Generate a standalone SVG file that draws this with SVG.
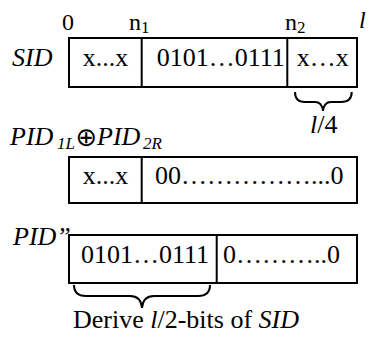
<svg xmlns="http://www.w3.org/2000/svg" width="369" height="341" viewBox="0 0 369 341">
<style>
text{font-family:'Liberation Serif',serif;font-size:26px;fill:#000}
.it{font-style:italic}
.sm{font-size:24px}
.sub{font-size:17px}
.box{fill:#fff;stroke:#000;stroke-width:2}
.div{stroke:#000;stroke-width:2}
.brace{fill:none;stroke:#000;stroke-width:2}
</style>
<rect width="369" height="341" fill="#fff"/>
<g id="sid" font-family="Liberation Serif">
  <text class="sm" x="62" y="30">0</text>
  <text class="sm" x="129" y="30">n<tspan class="sub" dy="3">1</tspan></text>
  <text class="sm" x="285" y="30">n<tspan class="sub" dy="3">2</tspan></text>
  <text class="sm it" x="359" y="28">l</text>
  <text class="it" x="12" y="66">SID</text>
  <rect class="box" x="69" y="38" width="288" height="49"/>
  <line class="div" x1="141.7" y1="38" x2="141.7" y2="87"/>
  <line class="div" x1="287.3" y1="38" x2="287.3" y2="87"/>
  <text x="82.7" y="65.5">x...x</text>
  <text x="156.7" y="65.5">0101…0111</text>
  <text x="296.7" y="65.5">x…x</text>
</g>
<g id="xor" font-family="Liberation Serif">
  <text class="it" x="10" y="145">PID</text>
  <text class="it sub" x="57" y="149">1L</text>
  <text x="75.5" y="146" style="font-family:'DejaVu Sans',sans-serif;font-size:26px">⊕</text>
  <text class="it" x="97" y="145">PID</text>
  <text class="it sub" x="143" y="149">2R</text>
  <rect class="box" x="69" y="157" width="288" height="46"/>
  <line class="div" x1="141.7" y1="157" x2="141.7" y2="203"/>
  <text x="82.7" y="184">x...x</text>
  <text x="155" y="183.5">00……………...0</text>
</g>
<g id="pid2" font-family="Liberation Serif">
  <text class="it" x="13" y="245">PID”</text>
  <rect class="box" x="69" y="235" width="288" height="48"/>
  <line class="div" x1="216.7" y1="235" x2="216.7" y2="283"/>
  <text x="81" y="263">0101…0111</text>
  <text x="223" y="263">0………..0</text>
</g>
<g id="connectors">
  <path class="brace" d="M295,92 Q295,102 305,102 L315,102 Q322,102 323,111 Q324,102 331,102 L341,102 Q351.7,102 351.7,92"/>
  <path class="brace" d="M74,285 Q74,296 86,296 L130,296 Q141,296 142,308 Q143,296 154,296 L198,296 Q210,296 210,285"/>
</g>
<g id="labels" font-family="Liberation Serif">
  <text x="310" y="133"><tspan class="it">l</tspan>/4</text>
  <text x="73" y="328">Derive <tspan class="it">l</tspan>/2-bits of <tspan class="it">SID</tspan></text>
</g>
</svg>
